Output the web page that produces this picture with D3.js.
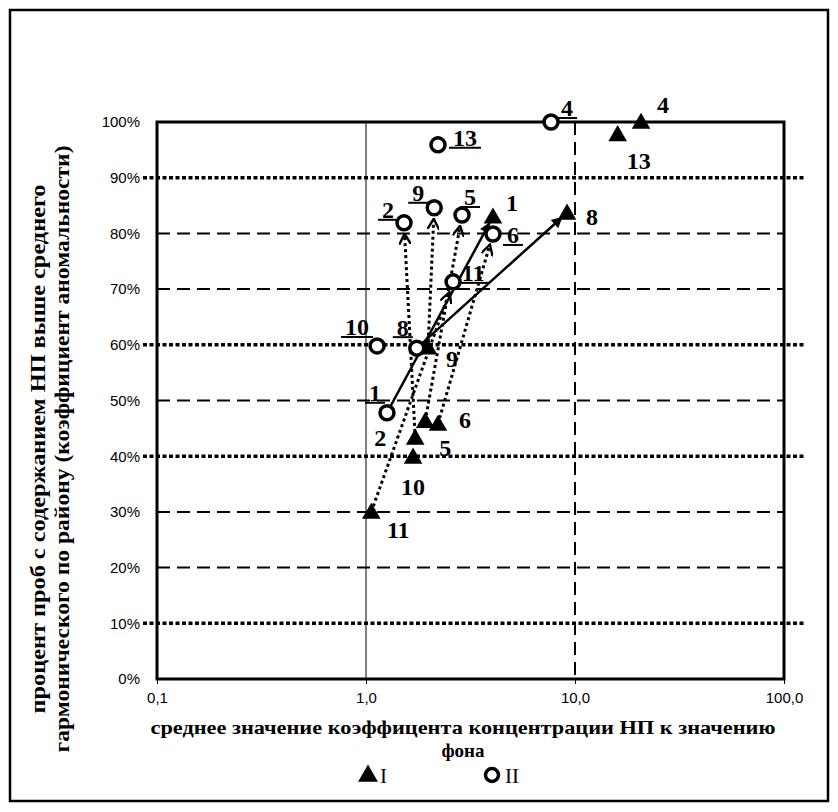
<!DOCTYPE html>
<html><head><meta charset="utf-8">
<script src="https://cdn.jsdelivr.net/npm/d3@7"></script>
<style>
body{margin:0;background:#fff} svg{display:block}
.serif{font-family:"Liberation Serif","Times New Roman","DejaVu Serif",serif}
.sans{font-family:"Liberation Sans",Arial,"DejaVu Sans",sans-serif}
</style>
</head><body>
<svg id="c" width="838" height="812"></svg>
<script>
// ---- data ----
const pointIds   = ["1","2","4","5","6","8","9","10","11","13"];
const seriesIx   = [4.05, 1.72, 20.7, 1.92, 2.21, 9.16, 1.98, 1.68, 1.06, 16.0];
const seriesIy   = [83.0, 43.3, 100, 46.3, 45.8, 83.7, 59.5, 39.9, 30.0, 97.8];
const seriesIIx  = [1.26, 1.52, 7.68, 2.88, 4.05, 1.75, 2.12, 1.13, 2.61, 2.21];
const seriesIIy  = [47.8, 81.9, 100, 83.3, 79.9, 59.4, 84.6, 59.8, 71.3, 95.9];
const xTicks      = [0.1, 1, 10, 100];
const xTickLabels = ["0,1", "1,0", "10,0", "100,0"];
const yTicks      = [0,10,20,30,40,50,60,70,80,90,100];
const dottedGrid  = [10, 40, 60, 90];
const dashedGrid  = [20, 30, 50, 70, 80];
const solidArrowIds  = ["1", "8"];                 // II -> I
const dottedArrowIds = ["2", "9", "5", "6", "11"]; // I -> II
const legendNames = ["I", "II"];

// label offsets (layout only)
const offI  = {"1":[19,-14],"2":[-35,0],"4":[22,-17],"5":[20,26],"6":[27,-4],"8":[25,4],"9":[24,11],"10":[0,30],"11":[27,18],"13":[21,26]};
const offII = {"1":[-12,-20],"2":[-16,-13],"4":[16,-14],"5":[8,-18],"6":[20,1],"8":[-14,-21],"9":[-16,-15],"10":[-20,-19],"11":[20,-9],"13":[27,-7]};

const svg = d3.select("#c");
const L = 157, R = 784, T = 122, B = 679;
const x = d3.scaleLog().domain([0.1, 100]).range([L, R]);
const y = d3.scaleLinear().domain([0, 100]).range([B, T]);

// outer frame
svg.append("rect").attr("x",10).attr("y",10).attr("width",818).attr("height",791)
  .attr("fill","none").attr("stroke","#000").attr("stroke-width",2.5);

// defs
const defs = svg.append("defs");
defs.append("marker").attr("id","solidHead").attr("viewBox","0 0 10 10")
  .attr("refX",9).attr("refY",5).attr("markerWidth",13).attr("markerHeight",11)
  .attr("markerUnits","userSpaceOnUse").attr("orient","auto")
  .append("path").attr("d","M0,0 L10,5 L0,10 Z").attr("fill","#000");
defs.append("marker").attr("id","openHead").attr("viewBox","0 0 10 10")
  .attr("refX",9).attr("refY",5).attr("markerWidth",12).attr("markerHeight",12)
  .attr("markerUnits","userSpaceOnUse").attr("orient","auto")
  .append("path").attr("d","M0,0 L9,5 L0,10").attr("fill","none").attr("stroke","#000").attr("stroke-width",2);

// gridlines
svg.append("g").selectAll("line").data(dashedGrid).join("line")
  .attr("x1",L).attr("x2",R).attr("y1",d=>y(d)).attr("y2",d=>y(d))
  .attr("stroke","#000").attr("stroke-width",2).attr("stroke-dasharray","13,7");
svg.append("line").attr("x1",x(10)).attr("x2",x(10)).attr("y1",T).attr("y2",B)
  .attr("stroke","#000").attr("stroke-width",2).attr("stroke-dasharray","13,7");
svg.append("line").attr("x1",x(1)).attr("x2",x(1)).attr("y1",T).attr("y2",B)
  .attr("stroke","#000").attr("stroke-width",1);
svg.append("g").selectAll("line").data(dottedGrid).join("line")
  .attr("x1",143).attr("x2",805).attr("y1",d=>y(d)).attr("y2",d=>y(d))
  .attr("stroke","#000").attr("stroke-width",3.5).attr("stroke-dasharray","4,2.5");

// plot border
svg.append("rect").attr("x",L).attr("y",T).attr("width",R-L).attr("height",B-T)
  .attr("fill","none").attr("stroke","#000").attr("stroke-width",3);

// x axis ticks + labels
const xAxis = d3.axisBottom(x).tickValues(xTicks).tickSize(5)
  .tickFormat((d,i)=>xTickLabels[i]);
const gx = svg.append("g").attr("transform",`translate(0,${B})`).call(xAxis);
gx.attr("font-family",null).attr("font-size",null);
gx.select(".domain").remove();
gx.selectAll("text").attr("class","sans").style("font-size","15px").attr("fill","#000").attr("dy","1.05em");
gx.selectAll("line").attr("stroke","#000");

// y axis labels
const yAxis = d3.axisLeft(y).tickValues(yTicks).tickSize(0).tickPadding(17).tickFormat(d=>d+"%");
const gy = svg.append("g").attr("transform",`translate(${L},0)`).call(yAxis);
gy.attr("font-family",null).attr("font-size",null);
gy.select(".domain").remove();
gy.selectAll("text").attr("class","sans").style("font-size","15px").attr("fill","#000");

// points
const ptsI = pointIds.map((id,i)=>({id, px:x(seriesIx[i]), py:y(seriesIy[i])}));
const ptsII = pointIds.map((id,i)=>({id, px:x(seriesIIx[i]), py:y(seriesIIy[i])}));
const byI = Object.fromEntries(ptsI.map(p=>[p.id,p]));
const byII = Object.fromEntries(ptsII.map(p=>[p.id,p]));

function shorten(a, b, s){
  const dx=b.px-a.px, dy=b.py-a.py, len=Math.hypot(dx,dy);
  return {px:b.px-dx/len*s, py:b.py-dy/len*s};
}
// dotted arrows I -> II
svg.append("g").selectAll("line").data(dottedArrowIds).join("line")
  .each(function(id){
    const a=byI[id], b=byII[id], e=shorten(a,b,11);
    d3.select(this).attr("x1",a.px).attr("y1",a.py).attr("x2",e.px).attr("y2",e.py);
  })
  .attr("stroke","#000").attr("stroke-width",3).attr("stroke-dasharray","3,3")
  .attr("marker-end","url(#openHead)");
// solid arrows II -> I
svg.append("g").selectAll("line").data(solidArrowIds).join("line")
  .each(function(id){
    const a=byII[id], b=byI[id], e=shorten(a,b,7);
    d3.select(this).attr("x1",a.px).attr("y1",a.py).attr("x2",e.px).attr("y2",e.py);
  })
  .attr("stroke","#000").attr("stroke-width",2.5)
  .attr("marker-end","url(#solidHead)");

// markers
const tri = d3.symbol().type(d3.symbolTriangle).size(150);
svg.append("g").selectAll("path").data(ptsI).join("path")
  .attr("d",tri).attr("transform",d=>`translate(${d.px},${d.py+1.5})`).attr("fill","#000");
svg.append("g").selectAll("circle").data(ptsII).join("circle")
  .attr("cx",d=>d.px).attr("cy",d=>d.py).attr("r",7)
  .attr("fill","#fff").attr("stroke","#000").attr("stroke-width",3.5);

// labels
const lf = "24px";
svg.append("g").selectAll("text").data(ptsI).join("text")
  .attr("class","serif")
  .attr("x",d=>d.px+offI[d.id][0]).attr("y",d=>d.py+offI[d.id][1]).attr("dy","0.35em")
  .attr("text-anchor","middle").style("font-weight","bold")
  .style("font-size",lf).text(d=>d.id);
const gII = svg.append("g");
ptsII.forEach(d=>{
  const cx = d.px+offII[d.id][0], cy = d.py+offII[d.id][1];
  const t = gII.append("text").attr("class","serif").attr("x",cx).attr("y",cy).attr("dy","0.35em")
    .attr("text-anchor","middle").style("font-weight","bold")
    .style("font-size",lf).text(d.id);
  const w = t.node().getComputedTextLength();
  gII.append("line").attr("x1",cx-w/2-4).attr("x2",cx+w/2+4).attr("y1",cy+10).attr("y2",cy+10)
    .attr("stroke","#000").attr("stroke-width",2);
});

// axis titles
svg.append("text").attr("class","serif").attr("x",463).attr("y",734).attr("text-anchor","middle")
  .style("font-weight","bold").style("font-size","19px")
  .attr("textLength",625).attr("lengthAdjust","spacingAndGlyphs")
  .text("среднее  значение коэффицента концентрации НП к значению");
svg.append("text").attr("class","serif").attr("x",463).attr("y",757).attr("text-anchor","middle")
  .style("font-weight","bold").style("font-size","19px")
  .text("фона");

const yt = svg.append("g").attr("transform","translate(0,449) rotate(-90)");
yt.append("text").attr("class","serif").attr("x",0).attr("y",45).attr("text-anchor","middle")
  .style("font-weight","bold").style("font-size","20px")
  .attr("textLength",529).attr("lengthAdjust","spacingAndGlyphs")
  .text("процент проб с содержанием НП выше среднего");
yt.append("text").attr("class","serif").attr("x",0).attr("y",69).attr("text-anchor","middle")
  .style("font-weight","bold").style("font-size","20px")
  .attr("textLength",607).attr("lengthAdjust","spacingAndGlyphs")
  .text("гармонического по району  (коэффициент аномальности)");

// legend
const lg = svg.append("g");
lg.append("path").attr("d",d3.symbol().type(d3.symbolTriangle).size(170))
  .attr("transform","translate(368,776)").attr("fill","#000");
lg.append("text").attr("class","serif").attr("x",380).attr("y",783).style("font-size","21px").text(legendNames[0]);
lg.append("circle").attr("cx",492).attr("cy",775).attr("r",6.5).attr("fill","#fff").attr("stroke","#000").attr("stroke-width",3.5);
lg.append("text").attr("class","serif").attr("x",505).attr("y",783).style("font-size","21px").text(legendNames[1]);
</script>
</body></html>
